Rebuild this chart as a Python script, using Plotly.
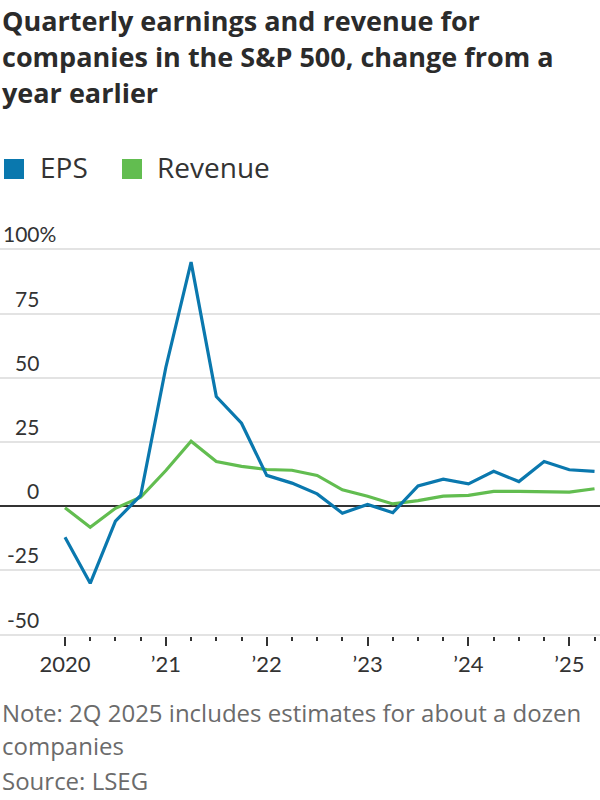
import plotly.graph_objects as go

quarters = ["1Q20","2Q20","3Q20","4Q20","1Q21","2Q21","3Q21","4Q21","1Q22","2Q22","3Q22","4Q22",
            "1Q23","2Q23","3Q23","4Q23","1Q24","2Q24","3Q24","4Q24","1Q25","2Q25"]
eps = [-12.1, -30.0, -5.8, 4.2, 54.1, 95.0, 42.7, 32.3, 12.0, 9.0, 4.8, -2.7,
       0.7, -2.5, 7.9, 10.5, 8.7, 13.6, 9.6, 17.4, 14.2, 13.6]
revenue = [-0.6, -8.2, -0.8, 3.5, 13.9, 25.3, 17.4, 15.5, 14.3, 14.0, 12.0, 6.4,
           3.9, 0.9, 2.2, 3.9, 4.2, 5.8, 5.8, 5.6, 5.5, 6.8]
year_ticks = [0, 4, 8, 12, 16, 20]
year_labels = ["2020", "\u201921", "\u201922", "\u201923", "\u201924", "\u201925"]
y_ticks = [100, 75, 50, 25, 0, -25, -50]
y_labels = ["100%", "75", "50", "25", "0", "-25", "-50"]

title_lines = ["Quarterly earnings and revenue for",
               "companies in the S&P 500, change from a",
               "year earlier"]
note_lines = ["Note: 2Q 2025 includes estimates for about a dozen",
              "companies",
              "Source: LSEG"]

BLUE = "#0a78ae"
GREEN = "#62bd50"
FONT = "Open Sans"
TICKFONT = "Lato"

W, H = 600, 800
MT, MB = 230, 164
PH = H - MT - MB

def py(pix):
    return (H - MB - pix) / PH

x_idx = list(range(len(quarters)))

fig = go.Figure()
fig.add_trace(go.Scatter(x=x_idx, y=revenue, mode="lines", name="Revenue",
                         line=dict(color=GREEN, width=3.2), hoverinfo="skip"))
fig.add_trace(go.Scatter(x=x_idx, y=eps, mode="lines", name="EPS",
                         line=dict(color=BLUE, width=3.2), hoverinfo="skip"))

ann = []
# Title lines (box tops in pixels)
title_top = [0.5, 35.5, 72.5]
for t, b in zip(title_lines, title_top):
    ann.append(dict(text="<b>" + t + "</b>", x=0, xref="paper", xanchor="left",
                    y=py(b), yref="paper", yanchor="top",
                    showarrow=False, font=dict(family=FONT, size=27, color="#2b2b2b")))
# Legend
leg = [("EPS", BLUE, 4, 40), ("Revenue", GREEN, 122, 157)]
shapes = []
for name, col, sx, tx in leg:
    shapes.append(dict(type="rect", xref="paper", yref="paper", x0=sx / W, x1=(sx + 20) / W,
                       y0=py(179), y1=py(159), fillcolor=col, line=dict(width=0)))
    ann.append(dict(text=name, x=(tx - 2) / W, xref="paper", xanchor="left",
                    y=py(167), yref="paper", yanchor="middle",
                    showarrow=False, font=dict(family=FONT, size=28, color="#333333")))
# Y tick labels
for v, lab in zip(y_ticks, y_labels):
    if lab.endswith("%"):
        ann.append(dict(text=lab, x=1 / W, xref="paper", xanchor="left", y=v, yref="y",
                        yanchor="bottom", yshift=1, showarrow=False,
                        font=dict(family=TICKFONT, size=21, color="#333333")))
    else:
        ann.append(dict(text=lab, x=41 / W, xref="paper", xanchor="right", y=v, yref="y",
                        yanchor="bottom", yshift=1, showarrow=False,
                        font=dict(family=TICKFONT, size=21, color="#333333")))
# Notes
note_base = [724, 757, 792]
for t, b in zip(note_lines, note_base):
    ann.append(dict(text=t, x=0, xref="paper", xanchor="left",
                    y=py(b), yref="paper", yanchor="bottom", yshift=-7,
                    showarrow=False, font=dict(family=FONT, size=24, color="#6b6b6b")))

fig.update_layout(
    width=W, height=H, margin=dict(l=0, r=0, t=MT, b=MB, pad=0),
    paper_bgcolor="white", plot_bgcolor="white", showlegend=False,
    annotations=ann, shapes=shapes,
    xaxis=dict(range=[-2.578, 21.217], tickmode="array", tickvals=year_ticks, ticktext=year_labels,
               ticks="outside", ticklen=9, tickwidth=2, tickcolor="#333333", showgrid=False,
               zeroline=False, showline=False,
               tickfont=dict(family=TICKFONT, size=22, color="#333333"),
               minor=dict(tickmode="array", tickvals=x_idx, ticks="outside", ticklen=4,
                          tickwidth=2, tickcolor="#333333", showgrid=False)),
    yaxis=dict(range=[-50.5, 107.5], tickmode="array", tickvals=y_ticks, showticklabels=False,
               showgrid=True, gridcolor="#e3e3e3", gridwidth=1.5,
               zeroline=True, zerolinecolor="#333333", zerolinewidth=2, showline=False),
)
fig.write_html("out.html")
